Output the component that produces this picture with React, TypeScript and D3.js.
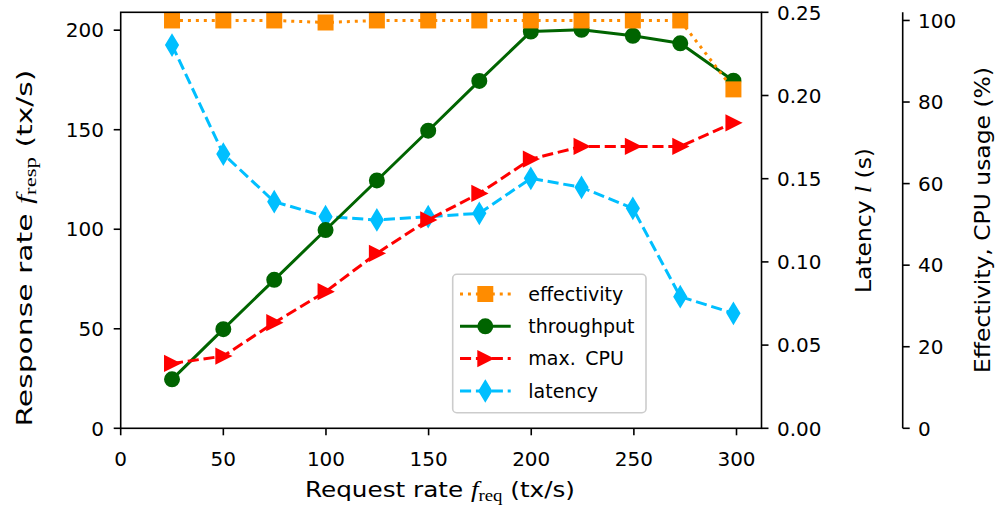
import React from 'react';
import * as d3 from 'd3';

const requestRate = [25, 50, 74.8, 99.8, 124.8, 149.8, 174.7, 199.8, 224.5, 249.5, 272.6, 298.5];
const throughput = [24.6, 49.8, 74.6, 99.6, 124.5, 149.5, 174.5, 199.3, 200.2, 197.2, 193.4, 174.6];
const latency = [0.2303, 0.1648, 0.1362, 0.1272, 0.1252, 0.1272, 0.1292, 0.1502, 0.1448, 0.1322, 0.0791, 0.0691];
const maxCpu = [15.9, 17.7, 25.9, 33.5, 42.9, 51.1, 57.6, 66.0, 69.1, 69.1, 69.1, 74.9];
const effectivity = [100, 100, 100, 99.5, 100, 100, 100, 100, 100, 100, 100, 83.1];

const xTicks = [0, 50, 100, 150, 200, 250, 300];
const yLeftTicks = [0, 50, 100, 150, 200];
const yLatTicks = [0, 0.05, 0.1, 0.15, 0.2, 0.25];
const yPctTicks = [0, 20, 40, 60, 80, 100];
const legendLabels = ['effectivity', 'throughput', 'max.\u2002CPU', 'latency'];

const W = 999;
const H = 516;
const L = 120.7, R = 761.5, T = 12.3, B = 428.3;
const pctAxisX = 902.7;
const FONT = 'DejaVu Sans, sans-serif';
const SERIF = 'Liberation Serif, DejaVu Serif, serif';

const C_EFF = '#ff8c00';
const C_THR = '#006400';
const C_CPU = '#ff0000';
const C_LAT = '#00bfff';

function marker(kind: string, cx: number, cy: number, color: string, key?: any) {
  const s = 14;
  const h = s / 2;
  if (kind === 'square') {
    return <rect key={key} x={cx - h} y={cy - h} width={s} height={s} fill={color} stroke={color} strokeWidth={2} />;
  }
  if (kind === 'circle') {
    return <circle key={key} cx={cx} cy={cy} r={h} fill={color} stroke={color} strokeWidth={2} />;
  }
  if (kind === 'tri') {
    const p = `M${cx + h},${cy} L${cx - h},${cy - h} L${cx - h},${cy + h} Z`;
    return <path key={key} d={p} fill={color} stroke={color} strokeWidth={2} strokeLinejoin="miter" />;
  }
  const dy = s * 0.7071;
  const dx = dy * 0.6;
  const p = `M${cx},${cy - dy} L${cx + dx},${cy} L${cx},${cy + dy} L${cx - dx},${cy} Z`;
  return <path key={key} d={p} fill={color} stroke={color} strokeWidth={2} strokeLinejoin="miter" />;
}

export default function App() {
  const xMin = d3.min(requestRate)!;
  const xMax = d3.max(requestRate)!;
  const x = d3.scaleLinear().domain([0, xMax + 0.05 * (xMax - xMin)]).range([L, R]);
  const tMin = d3.min(throughput)!;
  const tMax = d3.max(throughput)!;
  const yL = d3.scaleLinear().domain([0, tMax + 0.05 * (tMax - tMin)]).range([B, T]);
  const yLat = d3.scaleLinear().domain([0, 0.25]).range([B, T]);
  const yPct = d3.scaleLinear().domain([0, 102]).range([B, T]);

  const mk = (ys: number[], sc: d3.ScaleLinear<number, number>) =>
    d3.line<number>().x((_, i) => x(requestRate[i])).y((d) => sc(d))(ys) || '';

  const series = [
    { key: 'lat', data: latency, sc: yLat, color: C_LAT, dash: '11.1,4.8', kind: 'diamond' },
    { key: 'thr', data: throughput, sc: yL, color: C_THR, dash: undefined, kind: 'circle' },
    { key: 'cpu', data: maxCpu, sc: yPct, color: C_CPU, dash: '11.1,4.8', kind: 'tri' },
    { key: 'eff', data: effectivity, sc: yPct, color: C_EFF, dash: '3,4.95', kind: 'square' },
  ];

  const legendItems = [
    { label: legendLabels[0], color: C_EFF, dash: '3,4.95', kind: 'square' },
    { label: legendLabels[1], color: C_THR, dash: undefined, kind: 'circle' },
    { label: legendLabels[2], color: C_CPU, dash: '11.1,4.8', kind: 'tri' },
    { label: legendLabels[3], color: C_LAT, dash: '11.1,4.8', kind: 'diamond' },
  ];

  const lgX = 452.7, lgY = 274.3, lgW = 193.3, lgH = 138.4;
  const lgRow = [294, 326.3, 358.6, 391];

  return (
    <svg width={W} height={H} style={{ position: 'absolute', left: 0, top: 0, background: '#fff' }}>
      <rect x={0} y={0} width={W} height={H} fill="#fff" />
      {series.map((s) => (
        <g key={s.key}>
          <path d={mk(s.data, s.sc)} fill="none" stroke={s.color} strokeWidth={3}
            strokeDasharray={s.dash} strokeLinecap="butt" strokeLinejoin="round" />
          {s.data.map((v, i) => marker(s.kind, x(requestRate[i]), s.sc(v), s.color, i))}
        </g>
      ))}

      <rect x={L} y={T} width={R - L} height={B - T} fill="none" stroke="#000" strokeWidth={1.6} />

      {xTicks.map((t) => (
        <g key={'x' + t}>
          <line x1={x(t)} x2={x(t)} y1={B} y2={B + 7} stroke="#000" strokeWidth={1.6} />
          <text x={x(t)} y={466} textAnchor="middle" fontFamily={FONT} fontSize={20}>{t}</text>
        </g>
      ))}
      {yLeftTicks.map((t) => (
        <g key={'yl' + t}>
          <line x1={L - 7} x2={L} y1={yL(t)} y2={yL(t)} stroke="#000" strokeWidth={1.6} />
          <text x={104} y={yL(t)} dy="0.36em" textAnchor="end" fontFamily={FONT} fontSize={20}>{t}</text>
        </g>
      ))}
      {yLatTicks.map((t) => (
        <g key={'ylat' + t}>
          <line x1={R} x2={R + 7} y1={yLat(t)} y2={yLat(t)} stroke="#000" strokeWidth={1.6} />
          <text x={777} y={yLat(t)} dy="0.36em" textAnchor="start" fontFamily={FONT} fontSize={20}>{t.toFixed(2)}</text>
        </g>
      ))}
      <line x1={pctAxisX} x2={pctAxisX} y1={T} y2={B} stroke="#000" strokeWidth={1.6} />
      {yPctTicks.map((t) => (
        <g key={'yp' + t}>
          <line x1={pctAxisX} x2={pctAxisX + 7} y1={yPct(t)} y2={yPct(t)} stroke="#000" strokeWidth={1.6} />
          <text x={918} y={yPct(t)} dy="0.36em" textAnchor="start" fontFamily={FONT} fontSize={20}>{t}</text>
        </g>
      ))}

      <text x={440} y={497} textAnchor="middle" fontFamily={FONT} fontSize={21} textLength={270} lengthAdjust="spacingAndGlyphs">
        Request rate <tspan fontFamily={SERIF} fontStyle="italic" fontSize={23}>f</tspan>
        <tspan fontFamily={SERIF} fontSize={16} dy={4}>req</tspan>
        <tspan dy={-4}> (tx/s)</tspan>
      </text>
      <text transform={`translate(32,248) rotate(-90)`} textAnchor="middle" fontFamily={FONT} fontSize={21} textLength={357} lengthAdjust="spacingAndGlyphs">
        Response rate <tspan fontFamily={SERIF} fontStyle="italic" fontSize={23}>f</tspan>
        <tspan fontFamily={SERIF} fontSize={16} dy={4}>resp</tspan>
        <tspan dy={-4}> (tx/s)</tspan>
      </text>
      <text transform={`translate(871,220.5) rotate(-90)`} textAnchor="middle" fontFamily={FONT} fontSize={21} textLength={145} lengthAdjust="spacingAndGlyphs">
        Latency <tspan fontFamily={SERIF} fontStyle="italic" fontSize={23}>l</tspan> (s)
      </text>
      <text transform={`translate(990,220) rotate(-90)`} textAnchor="middle" fontFamily={FONT} fontSize={21} textLength={306} lengthAdjust="spacingAndGlyphs">
        Effectivity, CPU usage (%)
      </text>

      <rect x={lgX} y={lgY} width={lgW} height={lgH} rx={4} ry={4} fill="#fff" fillOpacity={0.8} stroke="#cccccc" strokeWidth={1.6} />
      {legendItems.map((it, i) => (
        <g key={'lg' + i}>
          <line x1={460} x2={510.7} y1={lgRow[i]} y2={lgRow[i]} stroke={it.color} strokeWidth={3} strokeDasharray={it.dash} />
          {marker(it.kind, 485.3, lgRow[i], it.color)}
          <text x={528.3} y={lgRow[i]} dy="0.36em" fontFamily={FONT} fontSize={19}>{it.label}</text>
        </g>
      ))}
    </svg>
  );
}
